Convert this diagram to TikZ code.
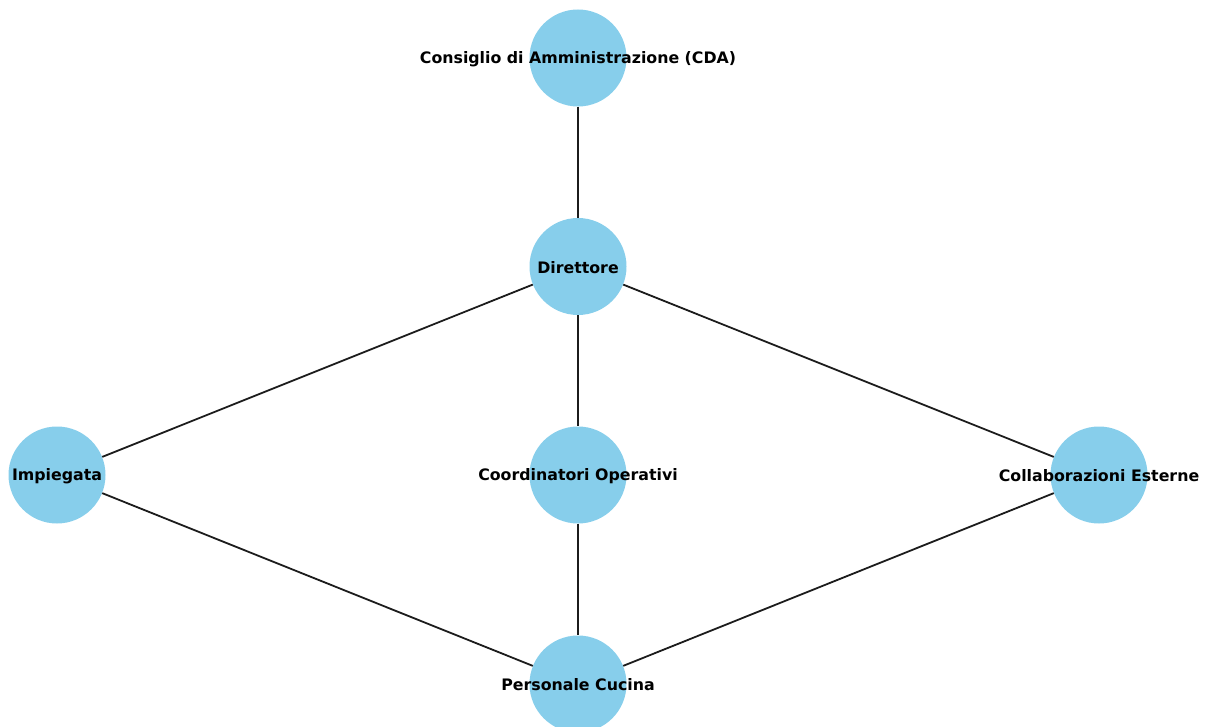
\documentclass[tikz,border=0pt]{standalone}
\usepackage{fontspec}
\setmainfont{DejaVu Sans}
\definecolor{nodeblue}{HTML}{87CEEB}
\definecolor{edgegray}{HTML}{1C1C1C}
\tikzset{
  orgnode/.style={circle, fill=nodeblue, draw=none, minimum size=97pt, inner sep=0pt},
  orglabel/.style={font=\bfseries\fontsize{15.8}{18}\selectfont, text=black, inner sep=0pt, yshift=-0.8pt},
  orgedge/.style={draw=edgegray, line width=1.8pt}
}
\begin{document}
\begin{tikzpicture}[x=1pt,y=-1pt]
\useasboundingbox (0,0) rectangle (1213,727);
\begin{scope}
\clip (0,0) rectangle (1213,727);
% circles
\node[orgnode] (cda) at (578,58) {};
\node[orgnode] (dir) at (578,266.5) {};
\node[orgnode] (imp) at (57,475) {};
\node[orgnode] (coo) at (578,475) {};
\node[orgnode] (col) at (1099,475) {};
\node[orgnode] (cuc) at (578,684) {};
% connections
\draw[orgedge] (cda) -- (dir);
\draw[orgedge] (dir) -- (imp);
\draw[orgedge] (dir) -- (coo);
\draw[orgedge] (dir) -- (col);
\draw[orgedge] (imp) -- (cuc);
\draw[orgedge] (coo) -- (cuc);
\draw[orgedge] (col) -- (cuc);
% labels
\node[orglabel] at (cda) {Consiglio di Amministrazione (CDA)};
\node[orglabel] at (dir) {Direttore};
\node[orglabel] at (imp) {Impiegata};
\node[orglabel] at (coo) {Coordinatori Operativi};
\node[orglabel] at (col) {Collaborazioni Esterne};
\node[orglabel] at (cuc) {Personale Cucina};
\end{scope}
\end{tikzpicture}
\end{document}
